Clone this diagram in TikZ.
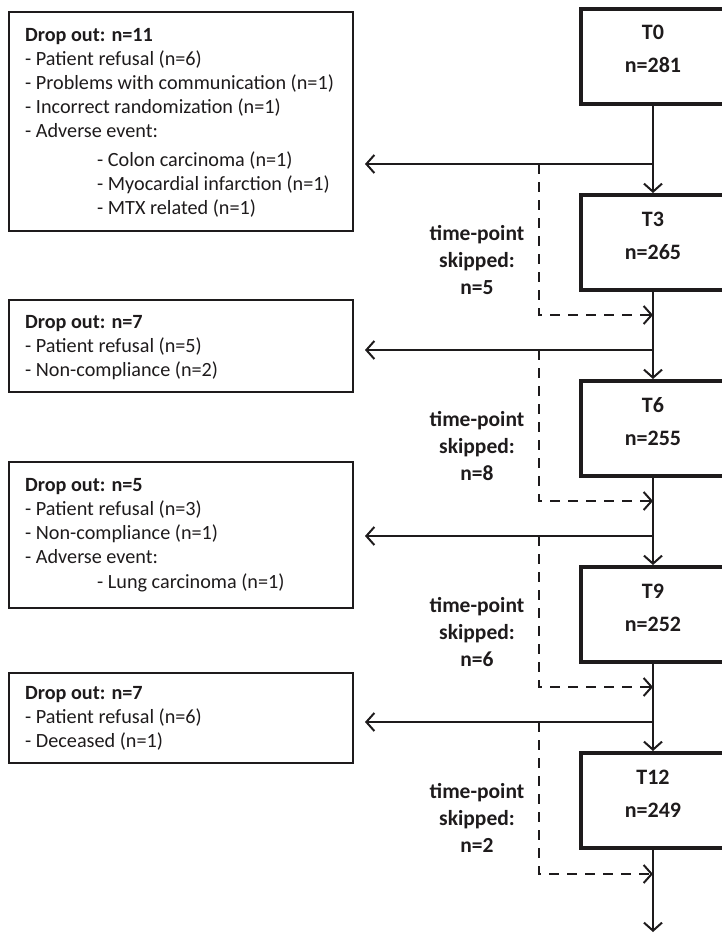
\documentclass[tikz,border=0pt]{standalone}
\usepackage{fontspec}
\setmainfont{Carlito}
\usetikzlibrary{arrows.meta}
\definecolor{ink}{HTML}{1E1B1C}
\begin{document}
\begin{tikzpicture}[x=1pt,y=-1pt,
  tbox/.style={draw=ink, line width=4pt, minimum width=144pt, minimum height=95pt, inner sep=0pt},
  tlabel/.style={align=center, inner sep=0pt, text=ink, font=\fontsize{22}{33}\selectfont\bfseries},
  dbox/.style={draw=ink, line width=1.4pt, minimum width=344pt, inner sep=0pt},
  dtext/.style={anchor=north west, align=left, inner sep=0pt, text=ink, font=\fontsize{20.2}{24}\selectfont},
  skiplabel/.style={align=center, inner sep=0pt, text=ink, font=\fontsize{21.5}{27}\selectfont\bfseries},
  flow/.style={draw=ink, line width=2pt, -{Straight Barb[length=8pt,width=18pt,line width=2pt]}},
  skipflow/.style={draw=ink, line width=2pt, dash pattern=on 10pt off 8pt, -{Straight Barb[length=8pt,width=18pt,line width=2pt]}}
]
\useasboundingbox (0,0) rectangle (721,937);

% main time-point boxes
\node[tbox] (T0)  at (653,56.5)  {};
\node[tbox] (T3)  at (653,242.5) {};
\node[tbox] (T6)  at (653,428.5) {};
\node[tbox] (T9)  at (653,614.5) {};
\node[tbox] (T12) at (653,800.5) {};
\node[tlabel] (L0)  at ([yshift=8pt]T0.center)  {T0\\n=281};
\node[tlabel] (L3)  at ([yshift=7pt]T3.center)  {T3\\n=265};
\node[tlabel] (L6)  at ([yshift=7pt]T6.center)  {T6\\n=255};
\node[tlabel] (L9)  at ([yshift=7pt]T9.center)  {T9\\n=252};
\node[tlabel] (L12) at ([yshift=7pt]T12.center) {T12\\n=249};

% drop-out boxes
\node[dbox, minimum height=219pt] (D1) at (181,121.5) {};
\node[dbox, minimum height=92pt]  (D2) at (181,346)   {};
\node[dbox, minimum height=146pt] (D3) at (181,535)   {};
\node[dbox, minimum height=90pt]  (D4) at (181,718)   {};

\node[dtext] (D1t) at (25,28) {\textbf{Drop out: n=11}\\
- Patient refusal (n=6)\\
- Problems with communication (n=1)\\
- Incorrect randomization (n=1)\\
- Adverse event:\\[5pt]
\hspace*{72pt}- Colon carcinoma (n=1)\\
\hspace*{72pt}- Myocardial infarction (n=1)\\
\hspace*{72pt}- MTX related (n=1)};
\node[dtext] (D2t) at (25,315) {\textbf{Drop out: n=7}\\
- Patient refusal (n=5)\\
- Non-compliance (n=2)};
\node[dtext] (D3t) at (25,478) {\textbf{Drop out: n=5}\\
- Patient refusal (n=3)\\
- Non-compliance (n=1)\\
- Adverse event:\\[1pt]
\hspace*{72pt}- Lung carcinoma (n=1)};
\node[dtext] (D4t) at (25,686) {\textbf{Drop out: n=7}\\
- Patient refusal (n=6)\\
- Deceased (n=1)};

% skipped labels
\node[skiplabel] (S1) at (477,260) {time-point\\skipped:\\n=5};
\node[skiplabel] (S2) at (477,446) {time-point\\skipped:\\n=8};
\node[skiplabel] (S3) at (477,632) {time-point\\skipped:\\n=6};
\node[skiplabel] (S4) at (477,818) {time-point\\skipped:\\n=2};

% branch coordinates
\coordinate (b1) at (653,164); \coordinate (e1) at (365,164); \coordinate (k1) at (539,164);
\coordinate (b2) at (653,350); \coordinate (e2) at (365,350); \coordinate (k2) at (539,350);
\coordinate (b3) at (653,536); \coordinate (e3) at (365,536); \coordinate (k3) at (539,536);
\coordinate (b4) at (653,722); \coordinate (e4) at (365,722); \coordinate (k4) at (539,722);
\coordinate (r1) at (653,315); \coordinate (r2) at (653,501);
\coordinate (r3) at (653,687); \coordinate (r4) at (653,874);
\coordinate (end) at (653,932);

% main flow
\draw[flow] (T0.south) -- (T3.north);
\draw[flow] (T3.south) -- (T6.north);
\draw[flow] (T6.south) -- (T9.north);
\draw[flow] (T9.south) -- (T12.north);
\draw[flow] (T12.south) -- (end);

% drop-out arrows
\draw[flow] (b1) -- (e1);
\draw[flow] (b2) -- (e2);
\draw[flow] (b3) -- (e3);
\draw[flow] (b4) -- (e4);

% skipped arrows
\draw[skipflow] (k1) |- (r1);
\draw[skipflow] (k2) |- (r2);
\draw[skipflow] (k3) |- (r3);
\draw[skipflow] (k4) |- (r4);
\end{tikzpicture}
\end{document}
